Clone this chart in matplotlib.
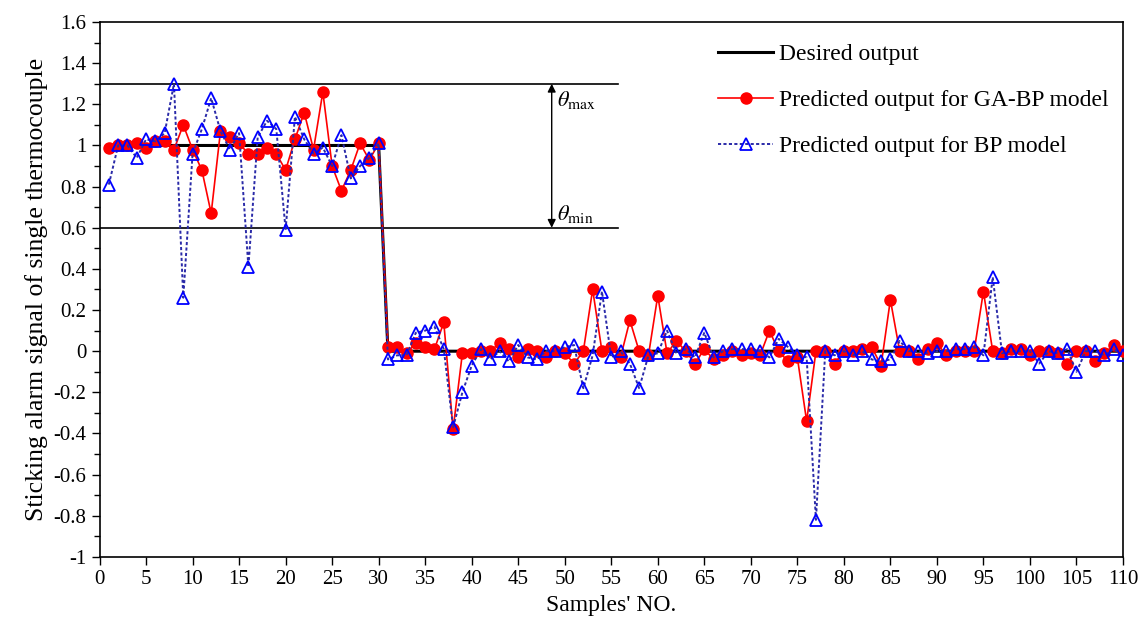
import numpy as np
import matplotlib.pyplot as plt
from matplotlib.ticker import MultipleLocator

plt.rcParams["font.family"] = ["Liberation Serif", "DejaVu Serif"]
plt.rcParams["mathtext.fontset"] = "stix"

samples = np.arange(1, 111)

# desired output: alarm for the first 30 samples, none after
desired = np.r_[np.ones(30), np.zeros(80)]

ga_bp = [
    0.99, 1.00, 1.00, 1.01, 0.99, 1.02, 1.02, 0.98, 1.10, 0.98,
    0.88, 0.67, 1.07, 1.04, 1.01, 0.96, 0.96, 0.99, 0.96, 0.88,
    1.03, 1.16, 0.98, 1.26, 0.90, 0.78, 0.88, 1.01, 0.93, 1.01,
    0.02, 0.02, -0.01, 0.04, 0.02, 0.01, 0.14, -0.38, -0.01, -0.01,
    0.00, 0.00, 0.04, 0.01, -0.03, 0.01, 0.00, -0.03, 0.00, -0.01,
    -0.06, 0.00, 0.30, 0.00, 0.02, -0.03, 0.15, 0.00, -0.02, 0.27,
    -0.01, 0.05, 0.00, -0.06, 0.01, -0.04, -0.02, 0.00, -0.02, -0.01,
    -0.02, 0.10, 0.00, -0.05, -0.03, -0.34, 0.00, 0.00, -0.06, 0.00,
    0.00, 0.01, 0.02, -0.07, 0.25, 0.00, 0.00, -0.04, 0.01, 0.04,
    -0.02, 0.00, 0.00, 0.00, 0.29, 0.00, -0.01, 0.01, 0.01, -0.02,
    0.00, 0.00, -0.01, -0.06, 0.00, 0.00, -0.05, -0.01, 0.03, 0.00,
]

bp = [
    0.81, 1.00, 1.00, 0.94, 1.03, 1.02, 1.06, 1.30, 0.26, 0.96,
    1.08, 1.23, 1.07, 0.98, 1.06, 0.41, 1.04, 1.12, 1.08, 0.59,
    1.14, 1.03, 0.96, 0.99, 0.90, 1.05, 0.84, 0.90, 0.94, 1.01,
    -0.04, -0.02, -0.02, 0.09, 0.10, 0.12, 0.01, -0.37, -0.20, -0.07,
    0.01, -0.04, 0.00, -0.05, 0.03, -0.03, -0.04, 0.00, 0.00, 0.02,
    0.03, -0.18, -0.02, 0.29, -0.03, 0.00, -0.06, -0.18, -0.02, -0.01,
    0.10, -0.01, 0.01, -0.03, 0.09, -0.03, 0.00, 0.01, 0.01, 0.01,
    0.00, -0.03, 0.06, 0.02, -0.02, -0.03, -0.82, 0.00, -0.02, 0.00,
    -0.02, 0.00, -0.04, -0.05, -0.04, 0.05, 0.00, 0.00, -0.01, 0.00,
    0.00, 0.01, 0.01, 0.02, -0.02, 0.36, -0.01, 0.00, 0.00, 0.00,
    -0.06, 0.00, -0.01, 0.01, -0.10, 0.00, 0.00, -0.02, 0.01, -0.02,
]

theta_max = 1.3
theta_min = 0.6


def fmt_tick(v, pos):
    v = round(v, 1)
    if v == 0:
        return "0"
    return f"{v:g}"


fig = plt.figure(figsize=(11.48, 6.3), dpi=100)
ax = fig.add_axes([0.0867, 0.116, 0.8915, 0.849])

# threshold lines
ax.plot([0, 55.7], [theta_max, theta_max], color="black", lw=1.2)
ax.plot([0, 55.7], [theta_min, theta_min], color="black", lw=1.2)
ax.annotate("", xy=(48.6, theta_max), xytext=(48.6, theta_min),
            arrowprops=dict(arrowstyle="<|-|>", color="black", lw=1,
                            mutation_scale=12, shrinkA=0, shrinkB=0))
ax.text(49.2, 1.22, r"$\theta_{\rm max}$", fontsize=16, va="center", ha="left")
ax.text(49.2, 0.665, r"$\theta_{\rm min}$", fontsize=16, va="center", ha="left")

ax.plot(samples, desired, color="black", lw=2.2, label="Desired output", zorder=2)
ax.plot(samples, ga_bp, color="red", lw=1.2, marker="o", markersize=8,
        markeredgecolor="red", label="Predicted output for GA-BP model", zorder=3)
ax.plot(samples, bp, color="#2a2aa8", lw=1.4, ls=(0, (1.6, 1.2)), marker="^",
        markersize=8, markerfacecolor="none", markeredgecolor="blue",
        markeredgewidth=1.3, label="Predicted output for BP model", zorder=4)

ax.set_xlim(0, 110)
ax.set_ylim(-1, 1.6)
ax.xaxis.set_major_locator(MultipleLocator(5))
ax.yaxis.set_major_locator(MultipleLocator(0.2))
ax.yaxis.set_minor_locator(MultipleLocator(0.1))
ax.yaxis.set_major_formatter(plt.FuncFormatter(fmt_tick))
ax.tick_params(axis="both", which="both", direction="out", labelsize=15)
ax.tick_params(axis="both", which="major", length=6, width=1)
ax.tick_params(axis="y", which="minor", length=4, width=1)
for s in ax.spines.values():
    s.set_linewidth(1.2)

ax.set_xlabel("Samples' NO.", fontsize=17, labelpad=4)
ax.set_ylabel("Sticking alarm signal of single thermocouple", fontsize=18.5, labelpad=4)

ax.legend(loc="upper left", bbox_to_anchor=(0.584, 1.0), frameon=False,
          fontsize=17, handlelength=2.3, labelspacing=1.05, handletextpad=0.25)

fig.savefig("out.png", dpi=100)
